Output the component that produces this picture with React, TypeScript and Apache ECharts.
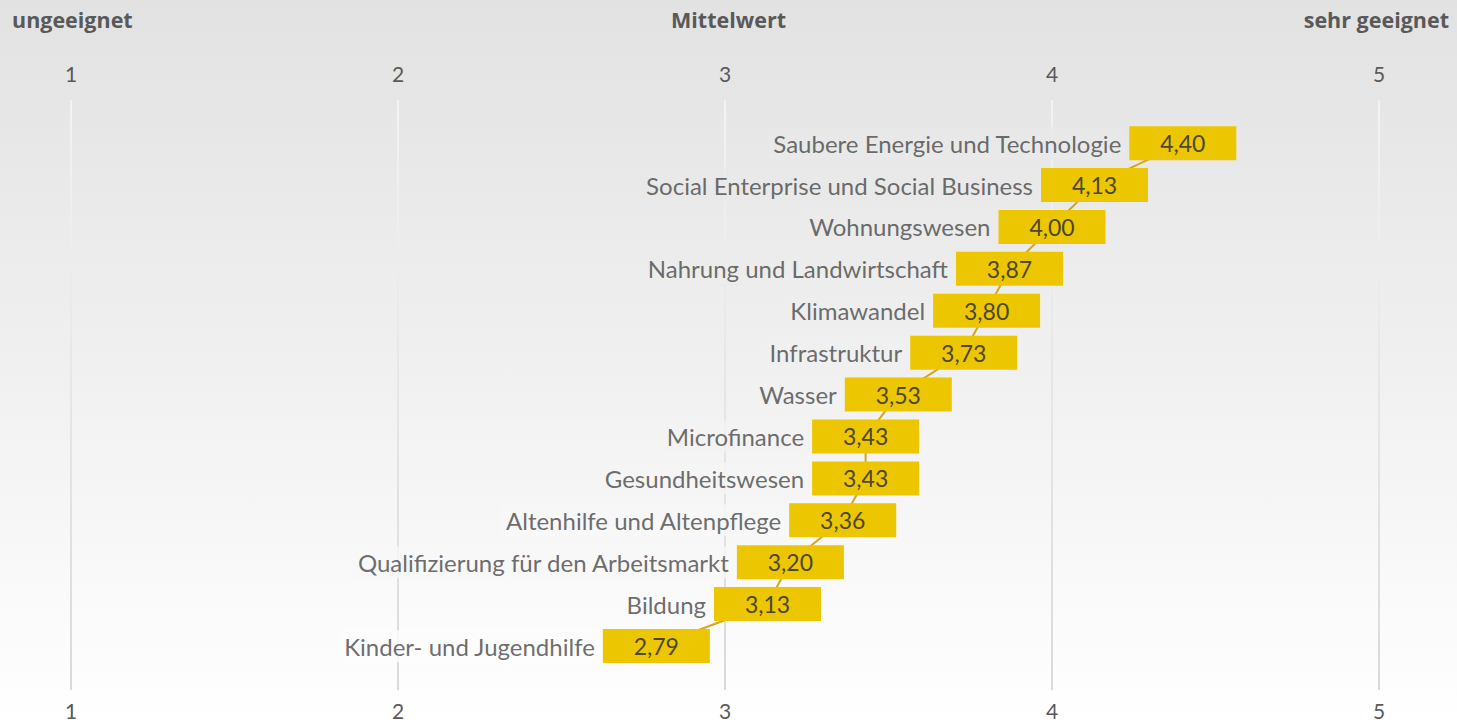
import React, { useEffect, useRef } from "react";
import * as echarts from "echarts";

const categories = [
  "Saubere Energie und Technologie",
  "Social Enterprise und Social Business",
  "Wohnungswesen",
  "Nahrung und Landwirtschaft",
  "Klimawandel",
  "Infrastruktur",
  "Wasser",
  "Microfinance",
  "Gesundheitswesen",
  "Altenhilfe und Altenpflege",
  "Qualifizierung für den Arbeitsmarkt",
  "Bildung",
  "Kinder- und Jugendhilfe",
];
const means = [4.4, 4.13, 4.0, 3.87, 3.8, 3.73, 3.53, 3.43, 3.43, 3.36, 3.2, 3.13, 2.79];
const axisMin = 1;
const axisMax = 5;
const axisInterval = 1;
const headerLeft = "ungeeignet";
const headerCenter = "Mittelwert";
const headerRight = "sehr geeignet";

const W = 1457;
const H = 724;
const FONT = "Lato, 'Open Sans', sans-serif";
const HFONT = "'Open Sans', Lato, sans-serif";
const TEXT = "#595959";
const CAT_TEXT = "#474747";
const YELLOW = "#ecc600";

function bgAt(y: number) {
  const t = Math.max(0, Math.min(1, y / H));
  let v: number;
  if (t < 0.5) v = 0xe2 + (0xf0 - 0xe2) * (t / 0.5);
  else v = 0xf0 + (0xff - 0xf0) * ((t - 0.5) / 0.5);
  const h = Math.round(v).toString(16).padStart(2, "0");
  return "#" + h + h + h;
}

export default function App() {
  const ref = useRef<HTMLDivElement>(null);
  useEffect(() => {
    document.body.style.margin = "0";
    if (!ref.current) return;
    const chart = echarts.init(ref.current, null, { renderer: "svg" });
    const gridTop = 100;
    const gridBottom = 34;
    const yMin = -1.03;
    const yMax = 13.05;
    const rowY = (i: number) => gridTop + ((i - yMin) / (yMax - yMin)) * (H - gridTop - gridBottom);

    const lineData = means.map((v, i) => [v, i]);
    const labelData = means.map((v, i) => ({
      value: [v, i],
      label: { backgroundColor: bgAt(rowY(i)) },
    }));

    const xAxisCommon = {
      type: "value" as const,
      min: axisMin,
      max: axisMax,
      interval: axisInterval,
      axisLine: { show: false },
      axisTick: { show: false },
      axisLabel: { color: TEXT, fontSize: 21, fontFamily: FONT },
    };

    chart.setOption({
      animation: false,
      backgroundColor: "transparent",
      grid: { left: 71, right: 78, top: gridTop, bottom: gridBottom },
      xAxis: [
        {
          ...xAxisCommon,
          position: "top",
          axisLabel: { ...xAxisCommon.axisLabel, margin: 16 },
          splitLine: {
            show: true,
            lineStyle: {
              width: 2,
              color: {
                type: "linear",
                x: 0,
                y: gridTop,
                x2: 0,
                y2: H - gridBottom,
                global: true,
                colorStops: [
                  { offset: 0, color: "#f3f3f3" },
                  { offset: 0.5, color: "#e6e6e6" },
                  { offset: 1, color: "#dadada" },
                ],
              },
            },
          },
        },
        {
          ...xAxisCommon,
          position: "bottom",
          axisLabel: { ...xAxisCommon.axisLabel, margin: 10 },
          splitLine: { show: false },
        },
      ],
      yAxis: { type: "value", show: false, inverse: true, min: yMin, max: yMax },
      series: [
        {
          type: "scatter",
          name: "names",
          xAxisIndex: 0,
          z: 1,
          symbol: "rect",
          symbolSize: [107, 34],
          itemStyle: { color: "rgba(0,0,0,0)" },
          silent: true,
          data: labelData,
          label: {
            show: true,
            position: "left",
            distance: 4,
            padding: [4, 4, 4, 4],
            color: CAT_TEXT,
            fontSize: 24,
            fontFamily: FONT,
            formatter: (p: any) => categories[p.dataIndex],
          },
        },
        {
          type: "line",
          name: "Mittelwert",
          xAxisIndex: 0,
          z: 3,
          data: lineData,
          symbol: "rect",
          symbolSize: [107, 34],
          showSymbol: true,
          itemStyle: { color: YELLOW, opacity: 1 },
          lineStyle: { color: "#d9a41a", width: 2 },
          label: {
            show: true,
            position: "inside",
            color: "#4d4632",
            fontSize: 23,
            fontFamily: FONT,
            formatter: (p: any) => Number(p.value[0]).toFixed(2).replace(".", ","),
          },
        },
      ],
      graphic: [
        {
          type: "text",
          left: 12,
          top: 8,
          style: { text: headerLeft, font: `bold 21.5px ${HFONT}`, fill: TEXT },
        },
        {
          type: "text",
          left: "center",
          top: 8,
          style: { text: headerCenter, font: `bold 21.5px ${HFONT}`, fill: TEXT },
        },
        {
          type: "text",
          right: 8,
          top: 8,
          style: { text: headerRight, font: `bold 21.5px ${HFONT}`, fill: TEXT },
        },
      ],
    });
    return () => chart.dispose();
  }, []);
  return (
    <div
      ref={ref}
      style={{
        width: W,
        height: H,
        background: "linear-gradient(to bottom, #e2e2e2 0%, #f0f0f0 50%, #ffffff 100%)",
      }}
    />
  );
}
